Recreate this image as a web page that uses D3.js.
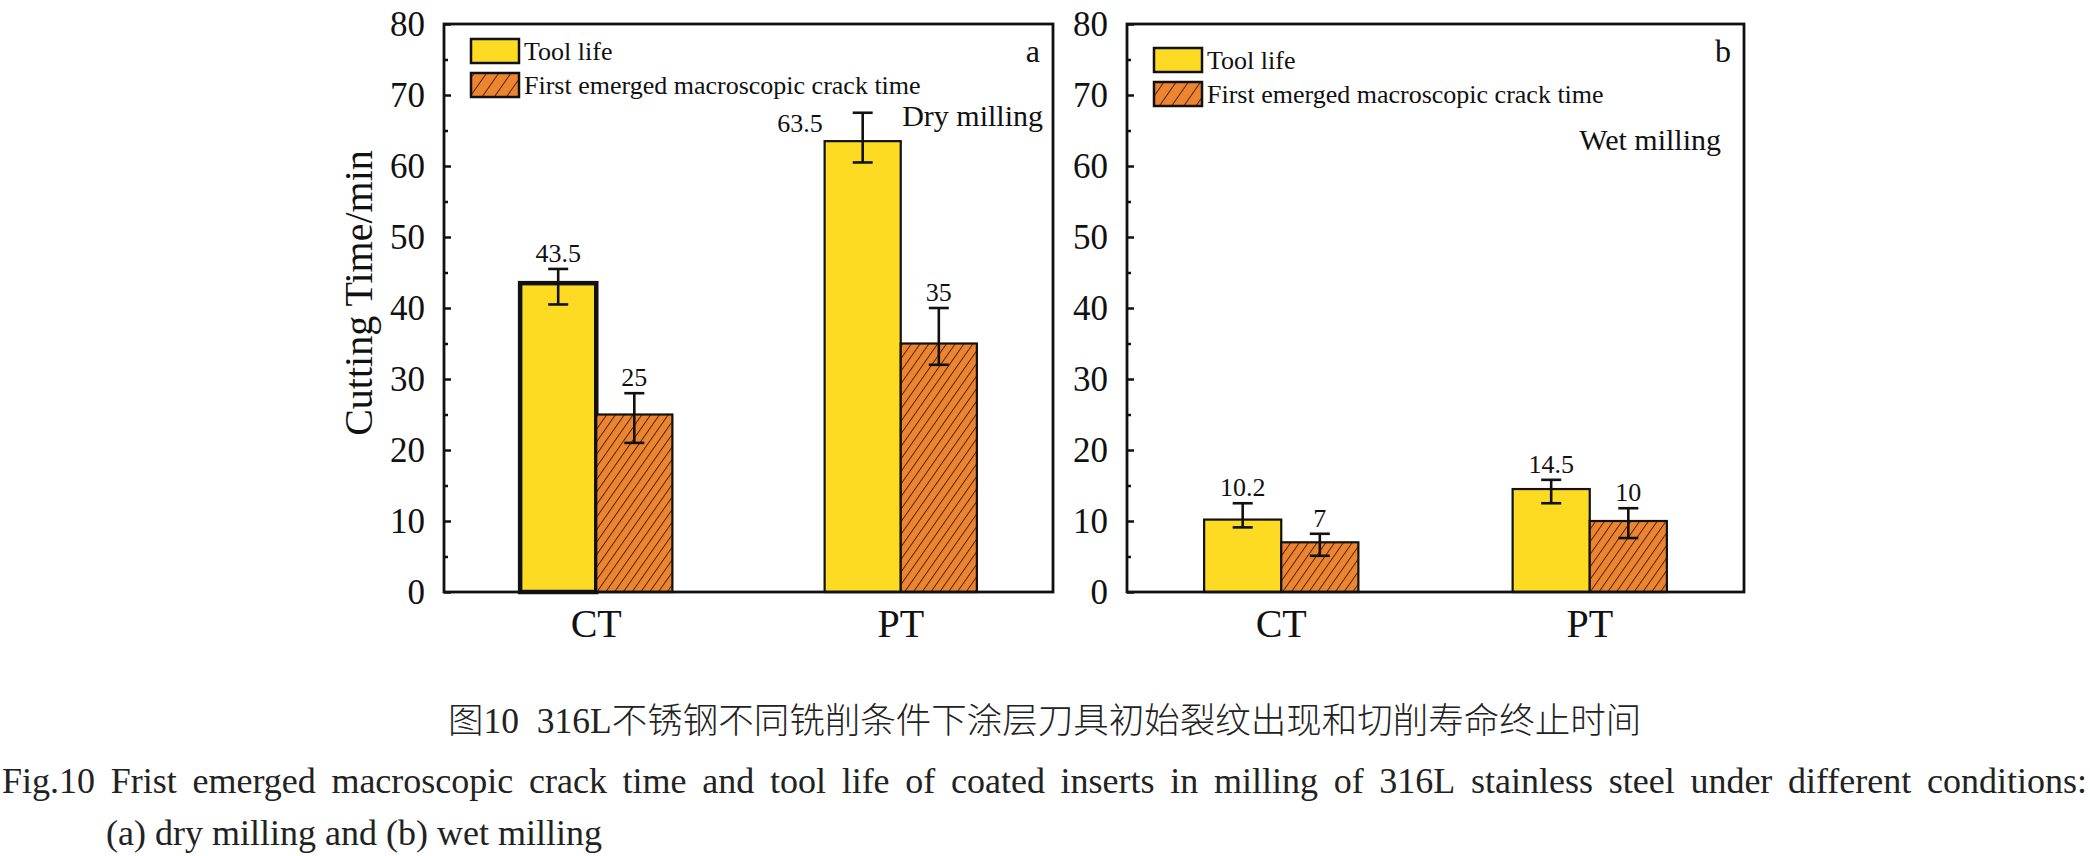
<!DOCTYPE html>
<html><head><meta charset="utf-8">
<script src="https://cdn.jsdelivr.net/npm/d3@7"></script>
<style>html,body{margin:0;padding:0;background:#fff;} svg{display:block;}</style>
</head><body>
<script>
// ---------------- data ----------------
const categories = ["CT", "PT"];
const seriesNames = ["Tool life", "First emerged macroscopic crack time"];
const yTicks = [0, 10, 20, 30, 40, 50, 60, 70, 80];
const yMinorTicks = [5, 15, 25, 35, 45, 55, 65, 75];

const toolLifeDry = [43.5, 63.5];
const toolLifeDryErr = [[40.5, 45.5], [60.5, 67.5]];
const crackDry = [25, 35];
const crackDryErr = [[21, 28], [32, 40]];

const toolLifeWet = [10.2, 14.5];
const toolLifeWetErr = [[9.1, 12.5], [12.5, 15.8]];
const crackWet = [7, 10];
const crackWetErr = [[5.1, 8.2], [7.6, 11.8]];

const panelLetters = ["a", "b"];
const panelConditions = ["Dry milling", "Wet milling"];
const yTitle = "Cutting Time/min";
const captionCN = "图10  316L不锈钢不同铣削条件下涂层刀具初始裂纹出现和切削寿命终止时间";
const captionEN1 = "Fig.10 Frist emerged macroscopic crack time and tool life of coated inserts in milling of 316L stainless steel under different conditions:";
const captionEN2 = "(a) dry milling and (b) wet milling";

// ---------------- drawing ----------------
const W = 2090, H = 856;
const serif = "'Liberation Serif','Times New Roman',serif";
const colYellow = "#FDDB22", colOrange = "#EF8430";

const svg = d3.select("body").append("svg").attr("width", W).attr("height", H)
  .style("font-family", serif);
svg.append("rect").attr("width", W).attr("height", H).attr("fill", "#fff");

const defs = svg.append("defs");
function hatch(id, spacing) {
  const p = defs.append("pattern").attr("id", id).attr("patternUnits", "userSpaceOnUse")
    .attr("width", spacing).attr("height", spacing).attr("patternTransform", "rotate(35)");
  p.append("rect").attr("width", spacing).attr("height", spacing).attr("fill", colOrange);
  p.append("line").attr("x1", 0.5).attr("y1", 0).attr("x2", 0.5).attr("y2", spacing)
    .attr("stroke", "#3a2612").attr("stroke-width", 0.95);
}
hatch("hatchBar", 7.2);
hatch("hatchLeg", 10);

const panels = [
  {x0: 444, x1: 1053, tool: toolLifeDry, toolErr: toolLifeDryErr, crack: crackDry, crackErr: crackDryErr, legY: 39, showTitle: true},
  {x0: 1127, x1: 1744, tool: toolLifeWet, toolErr: toolLifeWetErr, crack: crackWet, crackErr: crackWetErr, legY: 48, showTitle: false}
];
const yTop = 24, yBot = 592;

panels.forEach((P, pi) => {
  const g = svg.append("g");
  const y = d3.scaleLinear().domain([0, 80]).range([yBot, yTop]);
  const xb = d3.scaleBand().domain(categories).range([P.x0, P.x1]).padding(0);
  const xs = d3.scaleBand().domain([0, 1]).range([0, xb.bandwidth()]).paddingInner(0).paddingOuter(1);

  // bars
  const series = [
    {vals: P.tool, err: P.toolErr, fill: colYellow},
    {vals: P.crack, err: P.crackErr, fill: "url(#hatchBar)"}
  ];
  series.forEach((s, si) => {
    categories.forEach((c, ci) => {
      const bx = xb(c) + xs(si), bw = xs.bandwidth();
      const thick = (pi === 0 && si === 0 && ci === 0);
      g.append("rect").attr("x", bx).attr("width", bw)
        .attr("y", y(s.vals[ci])).attr("height", y(0) - y(s.vals[ci]))
        .attr("fill", s.fill).attr("stroke", "#111").attr("stroke-width", thick ? 4.5 : 2.2);
    });
  });
  // error bars + labels
  series.forEach((s, si) => {
    categories.forEach((c, ci) => {
      const cx = xb(c) + xs(si) + xs.bandwidth() / 2;
      const [lo, hi] = s.err[ci];
      const eg = g.append("g").attr("stroke", "#111").attr("stroke-width", 2.6);
      eg.append("line").attr("x1", cx).attr("x2", cx).attr("y1", y(lo)).attr("y2", y(hi));
      eg.append("line").attr("x1", cx - 10).attr("x2", cx + 10).attr("y1", y(lo)).attr("y2", y(lo));
      eg.append("line").attr("x1", cx - 10).attr("x2", cx + 10).attr("y1", y(hi)).attr("y2", y(hi));
      const leftLabel = (pi === 0 && si === 0 && ci === 1);
      g.append("text")
        .attr("x", leftLabel ? cx - 40 : cx)
        .attr("y", leftLabel ? y(s.vals[ci]) - 9 : y(hi) - 7)
        .attr("text-anchor", leftLabel ? "end" : "middle")
        .attr("font-size", 26).attr("fill", "#111")
        .text(String(s.vals[ci]));
    });
  });

  // y axis with inward ticks
  const axis = d3.axisLeft(y).tickValues(yTicks).tickSize(-7).tickPadding(19).tickFormat(d3.format("d"));
  const ag = g.append("g").attr("transform", `translate(${P.x0},0)`).call(axis);
  ag.select(".domain").remove();
  ag.selectAll("line").attr("stroke", "#111").attr("stroke-width", 2.5);
  ag.selectAll("text").attr("font-size", 35).attr("font-family", serif).attr("fill", "#111").attr("dy", "0.34em");
  const minor = d3.axisLeft(y).tickValues(yMinorTicks).tickSize(-4).tickFormat("");
  const mg = g.append("g").attr("transform", `translate(${P.x0},0)`).call(minor);
  mg.select(".domain").remove();
  mg.selectAll("line").attr("stroke", "#111").attr("stroke-width", 2.5);

  // frame
  g.append("rect").attr("x", P.x0).attr("y", yTop).attr("width", P.x1 - P.x0).attr("height", yBot - yTop)
    .attr("fill", "none").attr("stroke", "#111").attr("stroke-width", 2.8);

  // x category labels
  categories.forEach(c => {
    g.append("text").attr("x", xb(c) + xb.bandwidth() / 2).attr("y", 637)
      .attr("text-anchor", "middle").attr("font-size", 40).attr("fill", "#111").text(c);
  });

  // legend
  seriesNames.forEach((nm, i) => {
    const ly = P.legY + i * 34;
    g.append("rect").attr("x", P.x0 + 27).attr("y", ly).attr("width", 48).attr("height", 24)
      .attr("fill", i === 0 ? colYellow : "url(#hatchLeg)").attr("stroke", "#111").attr("stroke-width", 2.5);
    g.append("text").attr("x", P.x0 + 80).attr("y", ly + 21).attr("font-size", 26).attr("fill", "#111").text(nm);
  });

  // panel letter and condition
  g.append("text").attr("x", P.x1 - 13).attr("y", 62).attr("text-anchor", "end")
    .attr("font-size", 32).attr("fill", "#111").text(panelLetters[pi]);
  g.append("text").attr("x", P.x1 - (pi === 0 ? 10 : 23)).attr("y", pi === 0 ? 126 : 150).attr("text-anchor", "end")
    .attr("font-size", 30).attr("fill", "#111").text(panelConditions[pi]);

  if (P.showTitle) {
    g.append("text").attr("transform", `translate(372,${(yTop + yBot) / 2 - 15}) rotate(-90)`)
      .attr("text-anchor", "middle").attr("font-size", 40).attr("fill", "#111").text(yTitle);
  }
});

// ---------------- caption ----------------
svg.append("text").attr("x", 448).attr("y", 733).attr("font-size", 35.5)
  .attr("font-family", "'Liberation Serif','Noto Sans CJK SC',serif").attr("font-weight", 300)
  .attr("fill", "#222").attr("xml:space", "preserve").style("white-space", "pre").text(captionCN);

// justified English line
(function () {
  const words = captionEN1.split(" ");
  const left = 2, right = 2087, base = 793;
  const ts = words.map(w => svg.append("text").attr("y", base).attr("font-size", 36).attr("fill", "#222").text(w));
  const widths = ts.map(t => t.node().getComputedTextLength());
  const total = d3.sum(widths);
  const gap = (right - left - total) / (words.length - 1);
  let x = left;
  ts.forEach((t, i) => { t.attr("x", x); x += widths[i] + gap; });
})();
svg.append("text").attr("x", 106).attr("y", 845).attr("font-size", 36).attr("fill", "#222").text(captionEN2);
</script>
</body></html>
